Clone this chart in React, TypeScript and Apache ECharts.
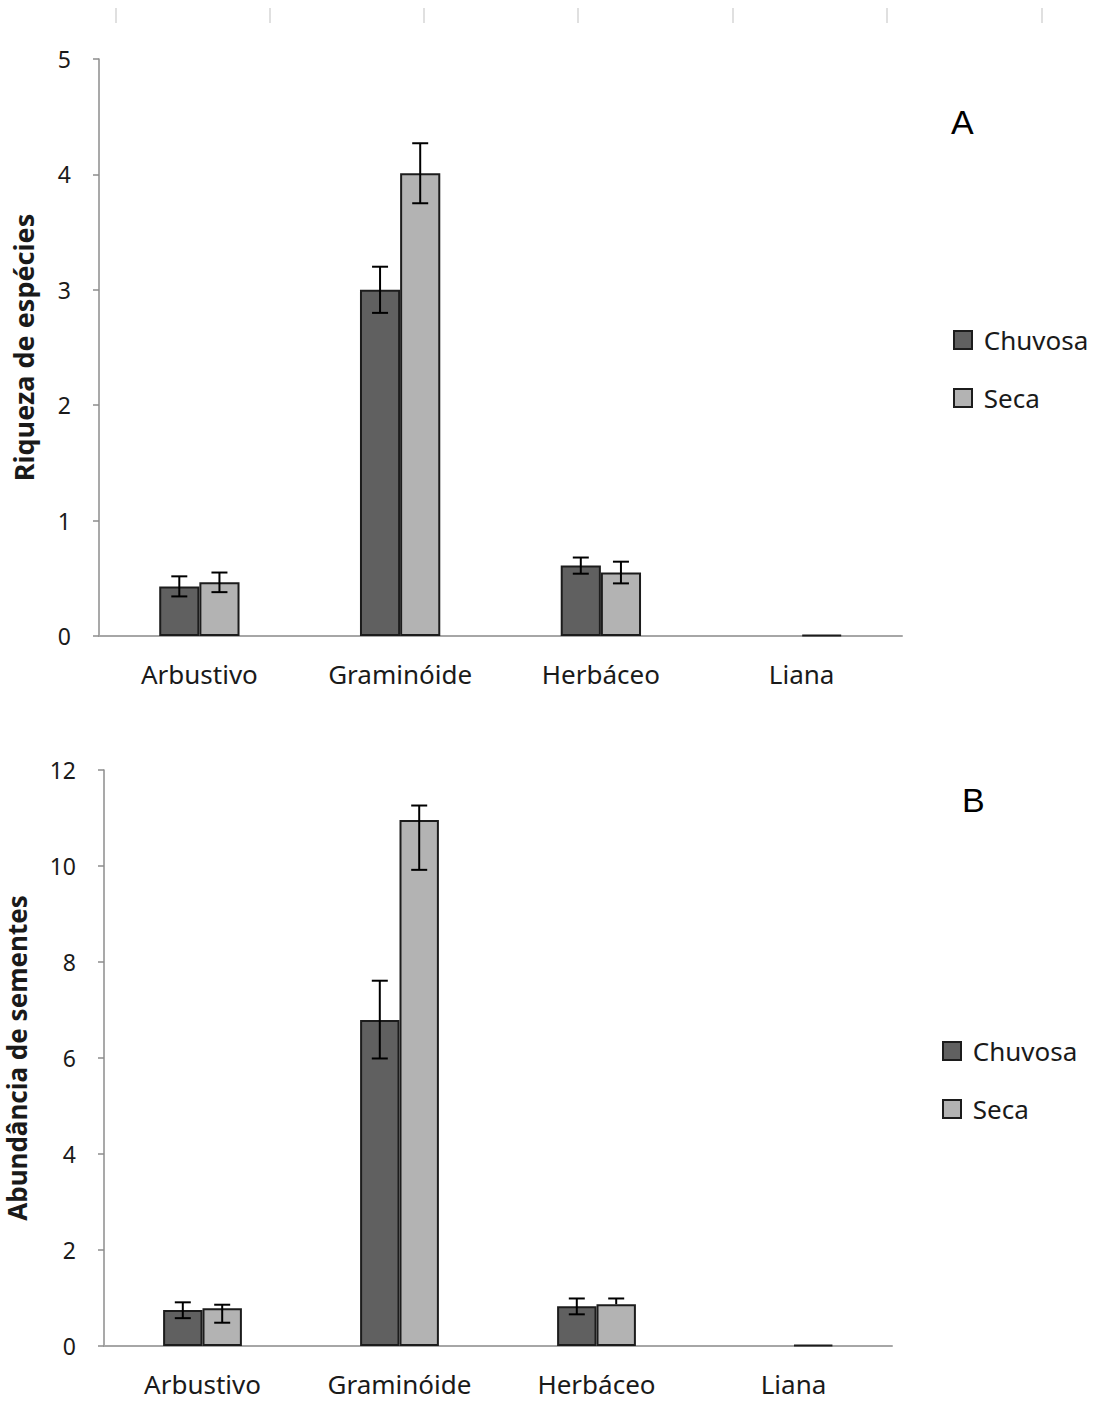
import React, { useEffect, useRef } from "react";
import * as echarts from "echarts";

// Growth forms on the category axis
const categories = ["Arbustivo", "Graminóide", "Herbáceo", "Liana"];

// Panel A: species richness (mean ± error)
const riquezaChuvosa = [0.43, 3.0, 0.61, null];
const riquezaChuvosaErrUp = [0.087, 0.2, 0.07, null];
const riquezaChuvosaErrDown = [0.087, 0.2, 0.07, null];
const riquezaSeca = [0.465, 4.01, 0.55, 0.01];
const riquezaSecaErrUp = [0.085, 0.26, 0.094, null];
const riquezaSecaErrDown = [0.085, 0.26, 0.094, null];

// Panel B: seed abundance (mean ± error)
const abundanciaChuvosa = [0.75, 6.79, 0.83, null];
const abundanciaChuvosaErrUp = [0.16, 0.82, 0.16, null];
const abundanciaChuvosaErrDown = [0.17, 0.8, 0.17, null];
const abundanciaSeca = [0.785, 10.96, 0.87, 0.02];
const abundanciaSecaErrUp = [0.075, 0.3, 0.12, null];
const abundanciaSecaErrDown = [0.3, 1.04, 0, null];

const seasons = ["Chuvosa", "Seca"];
const seasonColors = ["#606060", "#b3b3b3"];
const borderColor = "#1c1c1c";
const textColor = "#1a1a1a";
const font = "Noto Sans";

// faint tick marks along the top edge of the page
const topTickXs = [116, 270, 424, 578, 733, 887, 1042];

type Num = number | null;

function errData(vals: Num[], up: Num[], down: Num[]) {
  const out: number[][] = [];
  vals.forEach((v, i) => {
    if (v == null || up[i] == null || down[i] == null) return;
    out.push([i, v, v - (down[i] as number), v + (up[i] as number)]);
  });
  return out;
}

function errorBarSeries(gridIdx: number, sign: number, data: number[][]) {
  return {
    type: "custom",
    xAxisIndex: gridIdx,
    yAxisIndex: gridIdx,
    z: 10,
    silent: true,
    data,
    encode: { x: 0, y: [1, 2, 3] },
    renderItem: (params: any, api: any) => {
      const idx = api.value(0);
      const v = api.value(1);
      const lo = api.value(2);
      const hi = api.value(3);
      const bw = api.size([1, 0])[0];
      const dx = sign * bw * 0.1;
      const top = api.coord([idx, hi]);
      const bot = api.coord([idx, lo]);
      const x = top[0] + dx;
      const cap = 8;
      const style = { stroke: "#000", lineWidth: 2 };
      const children: any[] = [
        { type: "line", shape: { x1: x, y1: top[1], x2: x, y2: bot[1] }, style },
        { type: "line", shape: { x1: x - cap, y1: top[1], x2: x + cap, y2: top[1] }, style },
      ];
      if (lo < v) {
        children.push({
          type: "line",
          shape: { x1: x - cap, y1: bot[1], x2: x + cap, y2: bot[1] },
          style,
        });
      }
      return { type: "group", children };
    },
  };
}

function barSeries(gridIdx: number, seasonIdx: number, data: Num[]) {
  return {
    type: "bar",
    name: seasons[seasonIdx],
    xAxisIndex: gridIdx,
    yAxisIndex: gridIdx,
    data: data.map((v) => (v == null ? "-" : v)),
    barGap: "0%",
    barCategoryGap: "60%",
    itemStyle: {
      color: seasonColors[seasonIdx],
      borderColor,
      borderWidth: 2,
    },
  };
}

function xAxis(gridIndex: number) {
  return {
    type: "category",
    gridIndex,
    data: categories,
    axisLine: { lineStyle: { color: "#a6a6a6", width: 2 } },
    axisTick: { show: false },
    axisLabel: { fontSize: 26, color: textColor, fontFamily: font, margin: 25 },
  };
}

function yAxis(
  gridIndex: number,
  max: number,
  interval: number,
  name: string,
  nameGap: number,
  nameSize: number
) {
  return {
    type: "value",
    gridIndex,
    min: 0,
    max,
    interval,
    name,
    nameLocation: "middle",
    nameGap,
    nameTextStyle: {
      fontSize: nameSize,
      fontWeight: "bold",
      fontFamily: font,
      color: textColor,
    },
    splitLine: { show: false },
    axisLine: { show: true, lineStyle: { color: "#8c8c8c", width: 1.5 } },
    axisTick: { show: true, length: 6, lineStyle: { color: "#8c8c8c", width: 1.5 } },
    axisLabel: { fontSize: 23, color: textColor, fontFamily: font, margin: 28 },
  };
}

function legend(left: number, top: number) {
  return {
    data: seasons,
    orient: "vertical",
    left,
    top,
    padding: 0,
    icon: "rect",
    itemWidth: 18,
    itemHeight: 18,
    itemGap: 32,
    selectedMode: false,
    formatter: (name: string) => " " + name,
    textStyle: { fontSize: 26, color: textColor, fontFamily: font },
  };
}

export default function App() {
  const ref = useRef<HTMLDivElement>(null);

  useEffect(() => {
    if (!ref.current) return;
    const chart = echarts.init(ref.current, undefined, { renderer: "svg" });
    chart.setOption({
      animation: false,
      backgroundColor: "#ffffff",
      grid: [
        { left: 99, width: 803, top: 59, height: 577, containLabel: false, outerBoundsMode: "none" },
        { left: 104, width: 788, top: 770, height: 576, containLabel: false, outerBoundsMode: "none" },
      ],
      xAxis: [xAxis(0), xAxis(1)],
      yAxis: [
        yAxis(0, 5, 1, "Riqueza de espécies", 62, 27),
        yAxis(1, 12, 2, "Abundância de sementes", 74, 26),
      ],
      legend: [legend(953, 327), legend(942, 1038)],
      series: [
        barSeries(0, 0, riquezaChuvosa),
        barSeries(0, 1, riquezaSeca),
        errorBarSeries(0, -1, errData(riquezaChuvosa, riquezaChuvosaErrUp, riquezaChuvosaErrDown)),
        errorBarSeries(0, 1, errData(riquezaSeca, riquezaSecaErrUp, riquezaSecaErrDown)),
        barSeries(1, 0, abundanciaChuvosa),
        barSeries(1, 1, abundanciaSeca),
        errorBarSeries(1, -1, errData(abundanciaChuvosa, abundanciaChuvosaErrUp, abundanciaChuvosaErrDown)),
        errorBarSeries(1, 1, errData(abundanciaSeca, abundanciaSecaErrUp, abundanciaSecaErrDown)),
      ],
      graphic: [
        ...topTickXs.map((x) => ({
          type: "line",
          shape: { x1: x, y1: 8, x2: x, y2: 23 },
          style: { stroke: "#d6d6d6", lineWidth: 1.5 },
          silent: true,
        })),
        {
          type: "text",
          left: 951,
          top: 105,
          style: { text: "A", fontSize: 34, fontFamily: "Liberation Sans", fill: "#000" },
        },
        {
          type: "text",
          left: 962,
          top: 783,
          style: { text: "B", fontSize: 34, fontFamily: "Liberation Sans", fill: "#000" },
        },
      ],
    });
    return () => chart.dispose();
  }, []);

  return (
    <div
      ref={ref}
      style={{ position: "absolute", left: 0, top: 0, width: 1097, height: 1405 }}
    />
  );
}
